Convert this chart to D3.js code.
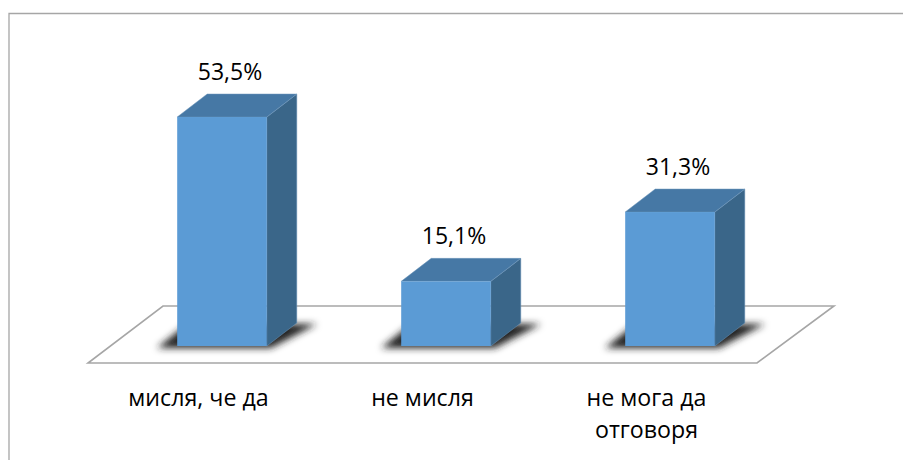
<!DOCTYPE html>
<html>
<head>
<meta charset="utf-8">
<script src="https://cdn.jsdelivr.net/npm/d3@7"></script>
<style>
  html, body { margin: 0; padding: 0; background: #fff; }
  text { font-family: "Open Sans", "Noto Sans", sans-serif; fill: #000; }
</style>
</head>
<body>
<div id="chart"></div>
<script>
var categories = [['мисля, че да'], ['не мисля'], ['не мога да', 'отговоря']];
var values = [53.5, 15.1, 31.3];
var valueLabels = ['53,5%', '15,1%', '31,3%'];

var width = 903, height = 460;
var depthX = 30, depthY = 23;
var floorY = 346;

var svg = d3.select('#chart').append('svg')
  .attr('width', width)
  .attr('height', height)
  .style('display', 'block');

var defs = svg.append('defs');
defs.append('filter').attr('id', 'blur')
  .attr('x', '-30%').attr('y', '-60%').attr('width', '160%').attr('height', '220%')
  .append('feGaussianBlur').attr('stdDeviation', 3.5);

var x = d3.scaleBand()
  .domain(d3.range(categories.length))
  .range([110, 782])
  .paddingInner(0.6)
  .paddingOuter(0.3);

var y = d3.scaleLinear().domain([0, 60]).range([floorY, floorY - 60 * 4.28]);

var pts = function(a){ return a.map(function(p){ return p.join(','); }).join(' '); };

// outer frame, only top and left show
svg.append('path')
  .attr('d', 'M9,460V13.5H903')
  .attr('fill', 'none')
  .attr('stroke', '#a6a6a6')
  .attr('stroke-width', 1.3);

// floor
svg.append('polygon')
  .attr('points', pts([[88, 363], [757, 363], [834, 306], [163, 306]]))
  .attr('fill', '#fff')
  .attr('stroke', '#a6a6a6')
  .attr('stroke-width', 1.6);

var bars = svg.selectAll('.bar').data(values).enter().append('g').attr('class', 'bar');

// floor shadows
bars.append('polygon')
  .attr('filter', 'url(#blur)')
  .attr('fill', '#222')
  .attr('points', function(d, i){
    var l = x(i), r = l + x.bandwidth();
    return pts([[l - 20, floorY + 2], [r + 4, floorY + 2], [r + depthX + 20, floorY - depthY + 1], [l + 10, floorY - depthY + 1]]);
  });

// side
bars.append('polygon')
  .attr('fill', '#3a6689')
  .attr('stroke', '#6f97ba')
  .attr('stroke-width', 0.5)
  .attr('points', function(d, i){
    var r = x(i) + x.bandwidth();
    return pts([[r, y(d)], [r + depthX, y(d) - depthY], [r + depthX, floorY - depthY], [r, floorY]]);
  });

// top
bars.append('polygon')
  .attr('fill', '#4678a5')
  .attr('stroke', '#6f97ba')
  .attr('stroke-width', 0.5)
  .attr('points', function(d, i){
    var l = x(i), r = l + x.bandwidth();
    return pts([[l, y(d)], [l + depthX, y(d) - depthY], [r + depthX, y(d) - depthY], [r, y(d)]]);
  });

// front
bars.append('rect')
  .attr('x', function(d, i){ return x(i); })
  .attr('y', function(d){ return y(d); })
  .attr('width', x.bandwidth())
  .attr('height', function(d){ return floorY - y(d); })
  .attr('fill', '#5b9bd5');

// value labels
bars.append('text')
  .attr('x', function(d, i){ return x(i) + x.bandwidth() / 2 + 8; })
  .attr('y', function(d){ return y(d) - 37.5; })
  .attr('text-anchor', 'middle')
  .attr('font-size', 23)
  .text(function(d, i){ return valueLabels[i]; });

// category labels
var labels = svg.selectAll('.cat').data(categories).enter().append('text')
  .attr('class', 'cat')
  .attr('text-anchor', 'middle')
  .attr('font-size', 23.2)
  .attr('y', 406);

labels.selectAll('tspan').data(function(d){ return d; }).enter().append('tspan')
  .attr('x', function(){
    var i = categories.indexOf(d3.select(this.parentNode).datum());
    return x(i) + x.bandwidth() / 2 - 23.5;
  })
  .attr('dy', function(d, j){ return j ? 32 : 0; })
  .text(function(d){ return d; });
</script>
</body>
</html>
